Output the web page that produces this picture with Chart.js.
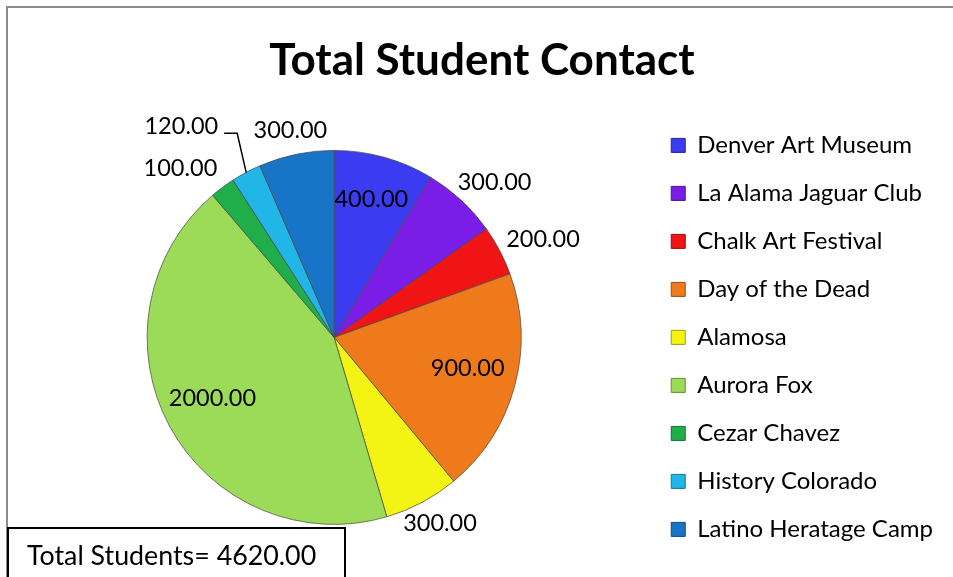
<!DOCTYPE html>
<html>
<head>
<meta charset="utf-8">
<script src="https://cdn.jsdelivr.net/npm/chart.js@4"></script>
<style>
  html, body { margin: 0; padding: 0; background: #fff; }
  #wrap { width: 953px; height: 577px; position: relative; }
</style>
</head>
<body>
<div id="wrap"><canvas id="pie" width="953" height="577"></canvas></div>
<script>
// chart data
const programs = ["Denver Art Museum", "La Alama Jaguar Club", "Chalk Art Festival", "Day of the Dead",
  "Alamosa", "Aurora Fox", "Cezar Chavez", "History Colorado", "Latino Heratage Camp"]
const students = [400, 300, 200, 900, 300, 2000, 100, 120, 300]
const totalLabel = "Total Students= 4620.00"

const sliceColors = ["#3b3bf2", "#7a1de6", "#f01414", "#ef7a1c", "#f4f414", "#9bdb57", "#1fae4a", "#22b5e8", "#1774c6"]
// where each value label goes: inside the slice, outside, or outside with a leader line
const labelPlace = ["in", "out", "out", "in", "out", "in", "out", "leader", "out"]
const labelNudgeX = [0, 0, 0, 0, -5, 0, -13, 0, 4]

const FONT = "Lato, Carlito, 'Open Sans', sans-serif"

function shade(hex, f){
    let n = parseInt(hex.slice(1), 16)
    let r = n >> 16, g = (n >> 8) & 255, b = n & 255
    const m = v => Math.max(0, Math.min(255, Math.round(f < 0 ? v * (1 + f) : v + (255 - v) * f)))
    return `rgb(${m(r)},${m(g)},${m(b)})`
}

const framePlugin = {
    id: "frame",
    beforeDraw(chart){
        const ctx = chart.ctx
        ctx.save()
        ctx.strokeStyle = "#8c8c8c"
        ctx.lineWidth = 2
        ctx.strokeRect(7, 7, 960, 600)
        ctx.restore()
    },
    afterDraw(chart){
        const ctx = chart.ctx
        ctx.save()
        ctx.fillStyle = "#fff"
        ctx.fillRect(8, 528, 337, 60)
        ctx.strokeStyle = "#000"
        ctx.lineWidth = 2
        ctx.strokeRect(8, 528, 337, 60)
        ctx.fillStyle = "#000"
        ctx.font = `26.8px ${FONT}`
        ctx.textBaseline = "middle"
        ctx.fillText(totalLabel, 27, 556)
        ctx.restore()
    }
}

const valueLabels = {
    id: "valueLabels",
    afterDatasetsDraw(chart){
        const ctx = chart.ctx
        const meta = chart.getDatasetMeta(0)
        ctx.save()
        ctx.font = `23.5px ${FONT}`
        ctx.fillStyle = "#000"
        ctx.strokeStyle = "#000"
        ctx.textBaseline = "middle"
        meta.data.forEach((arc, i) => {
            const {x, y, startAngle, endAngle, outerRadius} = arc.getProps(["x", "y", "startAngle", "endAngle", "outerRadius"], true)
            const mid = (startAngle + endAngle) / 2
            const cx = Math.cos(mid), cy = Math.sin(mid)
            const text = students[i].toFixed(2)
            const w = ctx.measureText(text).width
            const place = labelPlace[i]
            if(place == "in"){
                const d = outerRadius * 0.74
                ctx.textAlign = "center"
                ctx.fillText(text, x + cx * d, y + cy * d - 5)
            }
            else if(place == "out"){
                const d = outerRadius + 12
                ctx.textAlign = "center"
                ctx.fillText(text, x + cx * d + cx * w / 2 + labelNudgeX[i], y + cy * d + cy * 12)
            }
            else{
                const ex = x + cx * outerRadius, ey = y + cy * outerRadius
                const bx = ex - 9, by = ey - 39
                ctx.lineWidth = 1.5
                ctx.beginPath()
                ctx.moveTo(ex, ey)
                ctx.lineTo(bx, by)
                ctx.lineTo(bx - 13, by)
                ctx.stroke()
                ctx.textAlign = "right"
                ctx.fillText(text, bx - 19, by - 7)
            }
        })
        ctx.restore()
    }
}

const ctx = document.getElementById("pie").getContext("2d")

new Chart(ctx, {
    type: "pie",
    data: {
        labels: programs,
        datasets: [{
            data: students,
            backgroundColor: (c) => {
                const base = sliceColors[c.dataIndex]
                const arc = c.element
                if(!arc || !arc.outerRadius) return base
                const g = c.chart.ctx.createRadialGradient(arc.x, arc.y, 0, arc.x, arc.y, arc.outerRadius)
                g.addColorStop(0, shade(base, -0.04))
                g.addColorStop(0.85, base)
                g.addColorStop(0.95, shade(base, 0.12))
                g.addColorStop(1, shade(base, -0.2))
                return g
            },
            borderColor: "rgba(70,70,70,0.7)",
            borderWidth: 1,
            radius: 187
        }]
    },
    options: {
        responsive: false,
        animation: false,
        layout: { padding: { left: 21, right: 10, top: 0, bottom: 3 } },
        plugins: {
            title: {
                display: true,
                text: "Total Student Contact",
                color: "#000",
                font: { family: FONT, size: 44, weight: "bold", lineHeight: 1.2 },
                padding: { top: 34, bottom: 14 }
            },
            legend: {
                position: "right",
                align: "center",
                fullSize: false,
                labels: {
                    color: "#000",
                    font: { family: FONT, size: 24 },
                    boxWidth: 14,
                    boxHeight: 14,
                    padding: 24,
                    generateLabels: (chart) => programs.map((p, i) => ({
                        text: p,
                        fillStyle: sliceColors[i],
                        strokeStyle: shade(sliceColors[i], -0.35),
                        lineWidth: 1,
                        hidden: false,
                        index: i
                    }))
                }
            },
            tooltip: { enabled: false }
        }
    },
    plugins: [framePlugin, valueLabels]
})
</script>
</body>
</html>
